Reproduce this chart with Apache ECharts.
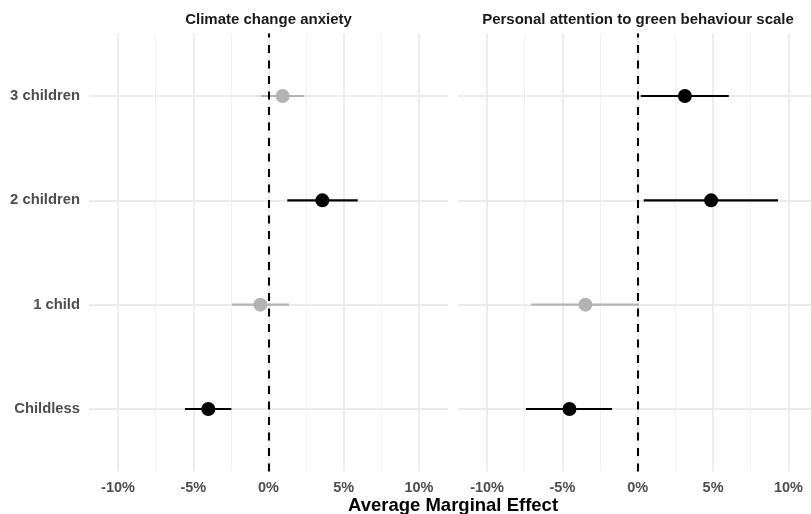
<!DOCTYPE html>
<html>
<head>
<meta charset="utf-8">
<script src="https://cdn.jsdelivr.net/npm/echarts@6/dist/echarts.min.js"></script>
<style>
html,body{margin:0;padding:0;background:#fff;}
#chart{width:811px;height:514px;}
</style>
</head>
<body>
<div id="chart"></div>
<script>
// ---- data ----
const categories = ['Childless', '1 child', '2 children', '3 children'];
const panelTitles = ['Climate change anxiety', 'Personal attention to green behaviour scale'];
const anxietyEst  = [-4.0, -0.54, 3.58, 0.94];
const anxietyLow  = [-5.55, -2.43, 1.25, -0.5];
const anxietyHigh = [-2.47, 1.36, 5.93, 2.38];
const greenEst  = [-4.53, -3.47, 4.87, 3.13];
const greenLow  = [-7.42, -7.07, 0.4, 0.2];
const greenHigh = [-1.71, 0.09, 9.31, 6.04];
const xTicks = [-10, -5, 0, 5, 10];
const xMinorTicks = [-7.5, -2.5, 2.5, 7.5];
const xMins = [-11.93, -11.93];
const xMaxs = [11.93, 11.5];   // right panel is cropped at the image edge
const axisTitle = 'Average Marginal Effect';

const FONT = "'Liberation Sans', Arial, Helvetica, sans-serif";
const panels = [
  {est: anxietyEst, low: anxietyLow, high: anxietyHigh},
  {est: greenEst, low: greenLow, high: greenHigh}
];
const gridDefs = [
  {left: 89, top: 33.4, right: 363, bottom: 42.4},
  {left: 458, top: 33.4, right: 0, bottom: 42.4}
];

const sigColor = (lo, hi) => (lo > 0 || hi < 0) ? '#000000' : '#b3b3b3';

const grids = [], xAxes = [], yAxes = [], series = [];
panels.forEach((p, i) => {
  grids.push(Object.assign({containLabel: false, outerBoundsMode: 'none'}, gridDefs[i]));
  xAxes.push({
    type: 'value', gridIndex: i, min: xMins[i], max: xMaxs[i],
    axisLine: {show: false}, axisTick: {show: false}, splitLine: {show: false},
    axisLabel: {
      customValues: xTicks, margin: 9,
      formatter: v => v + '%',
      color: '#4d4d4d', fontSize: 14.5, fontWeight: 'bold', fontFamily: FONT
    }
  });
  yAxes.push({
    type: 'value', gridIndex: i, min: 0.4, max: 4.6,
    axisLine: {show: false}, axisTick: {show: false}, splitLine: {show: false},
    axisLabel: {
      show: i === 0, customValues: [1, 2, 3, 4], margin: 9,
      formatter: v => categories[Math.round(v) - 1] || '',
      color: '#4d4d4d', fontSize: 14.8, fontWeight: 'bold', fontFamily: FONT
    }
  });
  const gridLineData = [];
  xTicks.forEach(v => gridLineData.push({xAxis: v, lineStyle: {color: '#ebebeb', width: 1.8, type: 'solid'}}));
  xMinorTicks.forEach(v => gridLineData.push({xAxis: v, lineStyle: {color: '#f2f2f2', width: 1, type: 'solid'}}));
  categories.forEach((c, k) => gridLineData.push({yAxis: k + 1, lineStyle: {color: '#ebebeb', width: 1.8, type: 'solid'}}));
  // gridlines
  series.push({
    type: 'scatter', xAxisIndex: i, yAxisIndex: i, data: [], z: 0, silent: true,
    markLine: {z: 0, silent: true, symbol: 'none', label: {show: false}, animation: false, data: gridLineData}
  });
  // error bars
  series.push({
    type: 'custom', xAxisIndex: i, yAxisIndex: i, z: 2, silent: true,
    data: p.est.map((e, k) => [p.low[k], p.high[k], k + 1]),
    renderItem: (params, api) => {
      const lo = api.value(0), hi = api.value(1), y = api.value(2);
      const a = api.coord([lo, y]), b = api.coord([hi, y]);
      return {type: 'line', shape: {x1: a[0], y1: a[1], x2: b[0], y2: b[1]},
        style: {stroke: sigColor(lo, hi), lineWidth: 2.1}};
    },
    animation: false
  });
  // zero line
  series.push({
    type: 'scatter', xAxisIndex: i, yAxisIndex: i, data: [], z: 3, silent: true,
    markLine: {z: 3, silent: true, symbol: 'none', label: {show: false}, animation: false,
      data: [{xAxis: 0, lineStyle: {color: '#000', width: 2.1, type: [8, 7.5]}}]}
  });
  // points
  series.push({
    type: 'scatter', xAxisIndex: i, yAxisIndex: i, z: 4, symbolSize: 14, silent: true,
    data: p.est.map((e, k) => ({value: [e, k + 1], itemStyle: {color: sigColor(p.low[k], p.high[k]), opacity: 1}})),
    animation: false
  });
});

const chart = echarts.init(document.getElementById('chart'), null, {renderer: 'canvas'});
chart.setOption({
  backgroundColor: '#ffffff',
  animation: false,
  grid: grids, xAxis: xAxes, yAxis: yAxes, series: series,
  graphic: [
    {type: 'text', x: 268.5, y: 20, style: {text: panelTitles[0], align: 'center', verticalAlign: 'middle',
      font: "bold 15px " + FONT, fill: '#1a1a1a'}},
    {type: 'text', x: 638, y: 20, style: {text: panelTitles[1], align: 'center', verticalAlign: 'middle',
      font: "bold 15px " + FONT, fill: '#1a1a1a'}},
    {type: 'text', x: 453, y: 506, style: {text: axisTitle, align: 'center', verticalAlign: 'middle',
      font: "bold 18.5px " + FONT, fill: '#000'}}
  ]
});
</script>
</body>
</html>
